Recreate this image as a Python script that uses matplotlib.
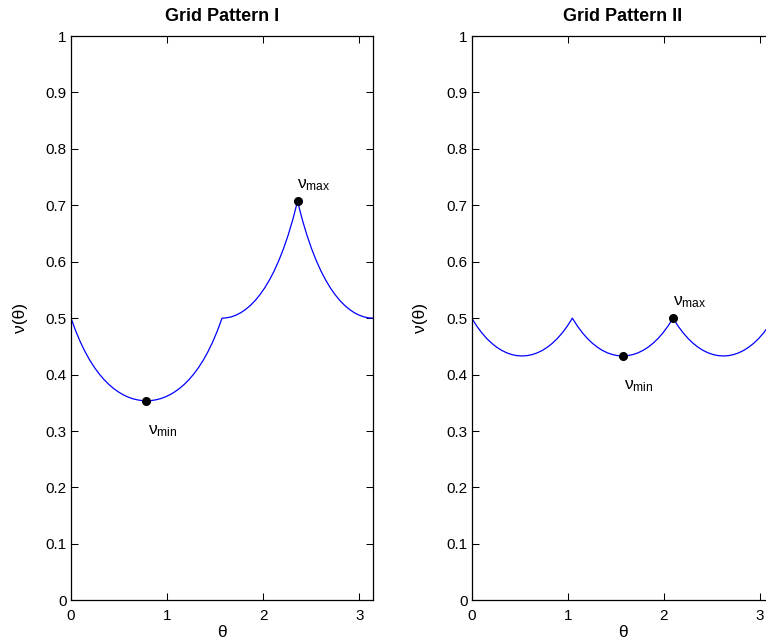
import numpy as np
import matplotlib
matplotlib.use("Agg")
import matplotlib.pyplot as plt

plt.rcParams['font.family'] = ['Liberation Sans', 'DejaVu Sans']
plt.rcParams['mathtext.fontset'] = 'custom'
plt.rcParams['mathtext.rm'] = 'Liberation Sans'
plt.rcParams['mathtext.it'] = 'Liberation Sans'

# values (65 points on [0, pi] for pattern I, 61 for pattern II)
nu_grid1 = [0.5000, 0.4772, 0.4574, 0.4402, 0.4252, 0.4122, 0.4009, 0.3911,
            0.3827, 0.3755, 0.3695, 0.3645, 0.3605, 0.3574, 0.3553, 0.3540,
            0.3536, 0.3540, 0.3553, 0.3574, 0.3605, 0.3645, 0.3695, 0.3755,
            0.3827, 0.3911, 0.4009, 0.4122, 0.4252, 0.4402, 0.4574, 0.4772,
            0.5000, 0.5006, 0.5024, 0.5055, 0.5098, 0.5155, 0.5225, 0.5310,
            0.5412, 0.5531, 0.5669, 0.5829, 0.6014, 0.6225, 0.6468, 0.6748,
            0.7071, 0.6748, 0.6468, 0.6225, 0.6014, 0.5829, 0.5669, 0.5531,
            0.5412, 0.5310, 0.5225, 0.5155, 0.5098, 0.5055, 0.5024, 0.5006,
            0.5000]

nu_grid2 = [0.5000, 0.4860, 0.4740, 0.4638, 0.4553, 0.4483, 0.4427, 0.4384,
            0.4354, 0.4336, 0.4330, 0.4336, 0.4354, 0.4384, 0.4427, 0.4483,
            0.4553, 0.4638, 0.4740, 0.4860,
            0.5000, 0.4860, 0.4740, 0.4638, 0.4553, 0.4483, 0.4427, 0.4384,
            0.4354, 0.4336, 0.4330, 0.4336, 0.4354, 0.4384, 0.4427, 0.4483,
            0.4553, 0.4638, 0.4740, 0.4860,
            0.5000, 0.4860, 0.4740, 0.4638, 0.4553, 0.4483, 0.4427, 0.4384,
            0.4354, 0.4336, 0.4330, 0.4336, 0.4354, 0.4384, 0.4427, 0.4483,
            0.4553, 0.4638, 0.4740, 0.4860,
            0.5000]

# marked extremes (theta, nu)
min1 = (0.785, 0.3536)
max1 = (2.356, 0.7071)
min2 = (1.571, 0.4330)
max2 = (2.094, 0.5000)

titles = ['Grid Pattern I', 'Grid Pattern II']
yticks = [0, 0.1, 0.2, 0.3, 0.4, 0.5, 0.6, 0.7, 0.8, 0.9, 1]
ytick_labels = ['0', '0.1', '0.2', '0.3', '0.4', '0.5', '0.6', '0.7', '0.8', '0.9', '1']

fig = plt.figure(figsize=(7.66, 6.43), dpi=100)
ax1 = fig.add_axes([0.0927, 0.0664, 0.3943, 0.8776])
ax2 = fig.add_axes([0.6158, 0.0664, 0.3943, 0.8776])

for i, (ax, nu, pmin, pmax) in enumerate([(ax1, nu_grid1, min1, max1),
                                          (ax2, nu_grid2, min2, max2)]):
    theta = np.linspace(0, np.pi, len(nu))
    ax.plot(theta, nu, color='#0000ff', lw=0.9)
    ax.plot([pmin[0], pmax[0]], [pmin[1], pmax[1]], 'o', color='k', ms=5.5)
    ax.text(pmin[0] + 0.17, pmin[1] - 0.053, r'$\nu_{\rm min}$', fontsize=12.5,
            ha='center', va='center')
    ax.text(pmax[0] + 0.17, pmax[1] + 0.028, r'$\nu_{\rm max}$', fontsize=12.5,
            ha='center', va='center')
    ax.set_xlim(0, np.pi)
    ax.set_ylim(0, 1)
    ax.set_xticks([0, 1, 2, 3])
    ax.set_yticks(yticks)
    ax.set_yticklabels(ytick_labels)
    ax.tick_params(direction='in', length=5, width=0.75, labelsize=11,
                   top=True, right=True, pad=3)
    ax.tick_params(axis='x', pad=6)
    for s in ax.spines.values():
        s.set_linewidth(0.9)
    ax.set_title(titles[i], fontsize=13, fontweight='bold', pad=11)
    ax.set_xlabel('θ', fontsize=12.5, labelpad=2)
    ax.set_ylabel('ν(θ)', fontsize=12.5, labelpad=13)

fig.savefig('out.png', dpi=100)
